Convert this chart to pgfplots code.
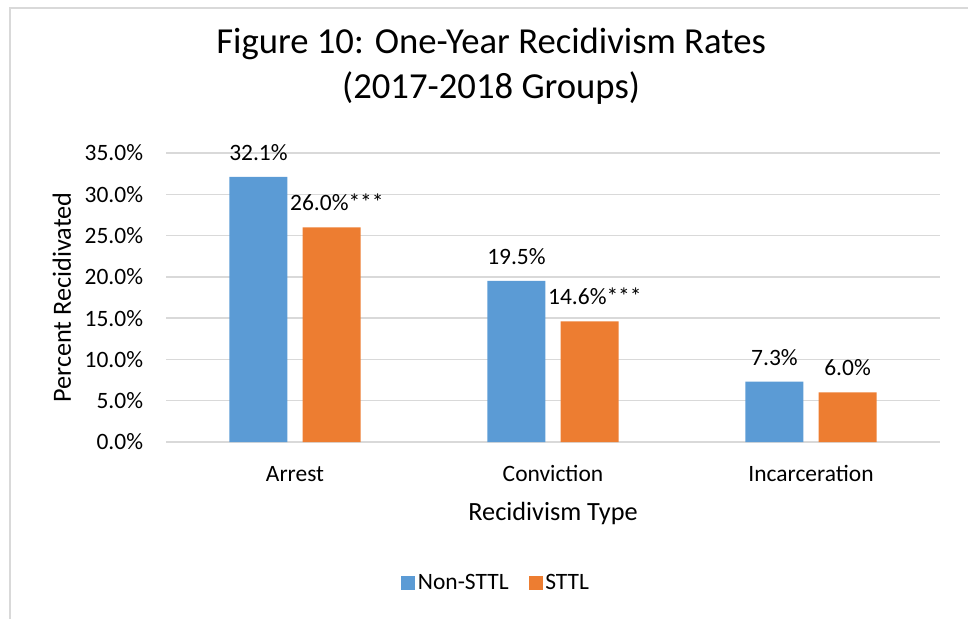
\documentclass[border=0pt]{standalone}
\usepackage{pgfplots}
\pgfplotsset{compat=1.18}
\usepackage{fontspec}
\setmainfont{Carlito}
\definecolor{cblue}{HTML}{5B9BD5}
\definecolor{corange}{HTML}{ED7D31}
\definecolor{cgrid}{HTML}{D9D9D9}
\begin{document}
\begin{tikzpicture}
\useasboundingbox (0pt,0pt) rectangle (726pt,463.5pt);
\draw[cgrid, line width=1.2pt] (7.5pt,-15pt) rectangle (742pt,457.5pt);
\begin{axis}[
  at={(124.5pt,132pt)}, anchor=south west,
  scale only axis, width=580.5pt, height=216.75pt,
  xmin=-0.5, xmax=2.5, ymin=0, ymax=35,
  ytick={0,5,...,35},
  xtick={0,1,2}, xticklabels={Arrest,Conviction,Incarceration},
  /pgf/number format/assume math mode=true,
  yticklabel={\pgfmathprintnumber[fixed,fixed zerofill,precision=1]{\tick}\%},
  major tick length=0pt,
  axis line style={draw=none},
  ymajorgrids, grid style={cgrid, line width=1.1pt},
  tick label style={font=\fontsize{17.6}{21}\selectfont, text=black},
  yticklabel style={anchor=east, inner sep=0pt, xshift=-17pt},
  xticklabel style={anchor=base, inner sep=0pt, yshift=-29.6pt},
  ylabel={Percent Recidivated},
  ylabel style={at={(rel axis cs:-0.1344,0.5)}, anchor=center, rotate=0, font=\fontsize{19.7}{24}\selectfont, inner sep=0pt},
  xlabel={Recidivism Type},
  xlabel style={at={(rel axis cs:0.5,-0.249)}, anchor=center, font=\fontsize{19.7}{24}\selectfont, inner sep=0pt},
  title={Figure 10: One-Year Recidivism Rates\\(2017-2018 Groups)},
  title style={at={(rel axis cs:0.42,1.272)}, anchor=center, align=center, font=\fontsize{27.5}{33.6}\selectfont, inner sep=0pt},
  bar width=0.2248,
  nodes near coords,
  point meta=explicit symbolic,
  nodes near coords style={anchor=base, yshift=12.4pt, font=\fontsize{17.6}{21}\selectfont, text=black, inner sep=0pt},
  legend columns=2,
  legend style={at={(rel axis cs:0.427,-0.488)}, anchor=center, draw=none, fill=none,
    font=\fontsize{17.6}{21}\selectfont,
    /tikz/every even column/.append style={column sep=13pt},
    cells={anchor=west, inner xsep=5pt}},
  legend image code/.code={\fill[#1] (0pt,-5.25pt) rectangle (10.5pt,5.25pt);},
]
\addplot[ybar, bar shift=-0.1415, fill=cblue, draw=none,
  nodes near coords style={xshift=-27.4pt}] coordinates {
  (0,32.1) [32.1\%]
  (1,19.5) [19.5\%]
  (2,7.3) [7.3\%]
};
\addlegendentry{Non-STTL}
\addplot[ybar, bar shift=0.1415, fill=corange, draw=none,
  nodes near coords style={xshift=27.4pt}] coordinates {
  (0,26.0) [\hspace{8pt}26.0\%***]
  (1,14.6) [\hspace{8pt}14.6\%***]
  (2,6.0) [6.0\%]
};
\addlegendentry{STTL}
\end{axis}
\end{tikzpicture}
\end{document}
